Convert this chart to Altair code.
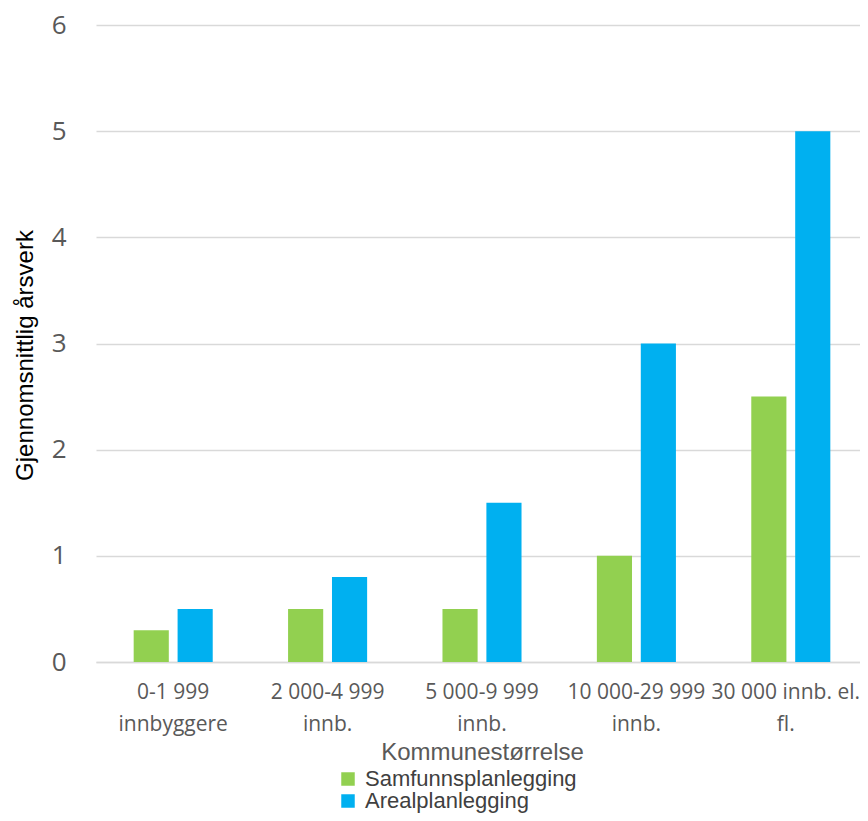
import altair as alt
import pandas as pd

categories = ["0-1 999\ninnbyggere", "2 000-4 999\ninnb.", "5 000-9 999\ninnb.",
              "10 000-29 999\ninnb.", "30 000 innb. el.\nfl."]
series = ["Samfunnsplanlegging", "Arealplanlegging"]
samfunn = [0.3, 0.5, 0.5, 1.0, 2.5]
areal = [0.5, 0.8, 1.5, 3.0, 5.0]
colors = ["#92D050", "#00B0F0"]

rows = []
for c, s, a in zip(categories, samfunn, areal):
    rows.append({"kat": c, "serie": series[0], "verdi": s})
    rows.append({"kat": c, "serie": series[1], "verdi": a})
df = pd.DataFrame(rows)

chart = alt.Chart(df).mark_bar().encode(
    x=alt.X("kat:N", sort=categories,
            scale=alt.Scale(paddingInner=0.488, paddingOuter=0.244, range=[0, 772]),
            axis=alt.Axis(title="Kommunestørrelse", labelAngle=0,
                          labelExpr="split(datum.label, '\\n')",
                          labelFont="Open Sans", labelFontSize=21, labelColor="#595959",
                          labelLineHeight=32, labelPadding=19, labelLimit=200,
                          labelOffset=alt.ExprRef("datum.index == 1 ? -5 : 0"),
                          ticks=False, domainColor="#d9d9d9", domainWidth=1.5,
                          titleFont="Arial", titleFontSize=24, titleFontWeight="normal",
                          titleColor="#595959", titleY=90, titleBaseline="middle",
                          titleX=386)),
    xOffset=alt.XOffset("serie:N", sort=series,
                        scale=alt.Scale(paddingInner=0.2, paddingOuter=0)),
    y=alt.Y("verdi:Q", scale=alt.Scale(domain=[0, 6]),
            axis=alt.Axis(title="Gjennomsnittlig årsverk", values=[0, 1, 2, 3, 4, 5, 6],
                          format="d", labelFont="Open Sans", labelFontSize=26,
                          labelColor="#595959", labelPadding=30, ticks=False, domain=False,
                          gridColor="#d9d9d9", gridWidth=1.5,
                          titleFont="Arial", titleFontSize=24, titleFontWeight="normal",
                          titleColor="#000000", titleX=-59, titleY=330,
                          titleBaseline="bottom")),
    color=alt.Color("serie:N", sort=series,
                    scale=alt.Scale(domain=series, range=colors),
                    legend=alt.Legend(title=None, orient="none", legendX=241, legendY=743,
                                      direction="vertical", symbolType="square",
                                      symbolSize=182, symbolStrokeWidth=0,
                                      labelFont="Arial", labelFontSize=22,
                                      labelColor="#404040", rowPadding=0, labelOffset=6,
                                      labelLimit=400)),
).properties(
    width=764, height=637,
    autosize=alt.AutoSizeParams(type="none"),
    padding={"left": 88, "top": 17, "right": 0, "bottom": 151},
).configure_view(stroke=None)

chart.save("out.html", embed_options={"renderer": "svg", "actions": False})
